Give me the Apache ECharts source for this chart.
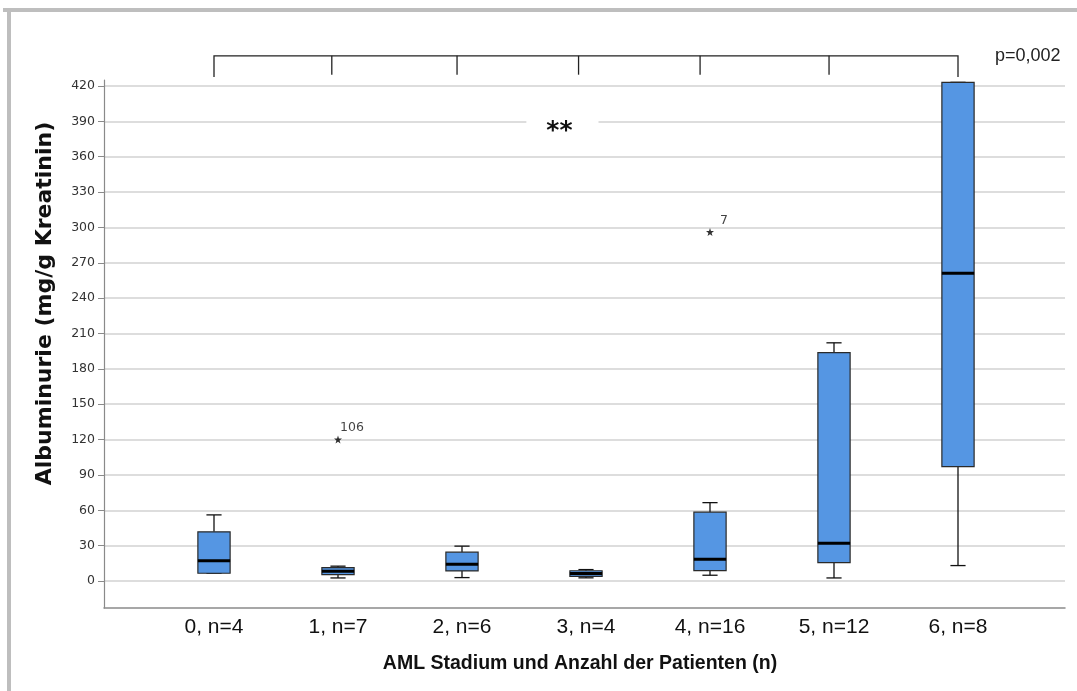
<!DOCTYPE html>
<html><head><meta charset="utf-8">
<script src="https://cdn.jsdelivr.net/npm/echarts@6/dist/echarts.min.js"></script>
<style>html,body{margin:0;padding:0;background:#fff}#c{width:1077px;height:691px}</style>
</head><body><div id="c"></div>
<script>
// ---- data ----
const categories  = ['0, n=4', '1, n=7', '2, n=6', '3, n=4', '4, n=16', '5, n=12', '6, n=8'];
const whiskerLow  = [6.5, 2.5, 2.8, 2.6, 4.8, 2.5, 13];
const q1          = [6.5, 5.4, 8.5, 3.8, 8.7, 15.5, 97];
const median      = [17, 8.2, 14.2, 6.2, 18.4, 32, 261];
const q3          = [41.6, 11.3, 24.4, 8.6, 58.3, 193.7, 423];
const whiskerHigh = [56, 12.5, 29.5, 9.6, 66.4, 202, 423];
const outlierCat   = [1, 4];
const outlierVal   = [120, 296];
const outlierLabel = ['106', '7'];
const yTickMin = 0, yTickMax = 420, yTickStep = 30;
const yRangeMin = -23, yRangeMax = 425;
const bracketTicks = [0, 0.95, 1.96, 2.94, 3.92, 4.96, 6];
const bracketTop = 445.5, bracketEndLow = 427.5, bracketMidLow = 429.5;
const sigText = '**', sigPos = 2.81, sigVal = 381;
const pText = 'p=0,002';
const xTitle = 'AML Stadium und Anzahl der Patienten (n)';
const yTitle = 'Albuminurie (mg/g Kreatinin)';

const boxData = categories.map((c, i) => [i, whiskerLow[i], q1[i], median[i], q3[i], whiskerHigh[i]]);
const outData = outlierCat.map((c, i) => ({ value: [c, outlierVal[i]], name: outlierLabel[i] }));

const FONT = '"Liberation Sans", Arial, sans-serif';
const STAR = 'path://M0,-10 L2.35,-3.24 9.51,-3.09 3.8,1.24 5.88,8.09 0,4 -5.88,8.09 -3.8,1.24 -9.51,-3.09 -2.35,-3.24Z';

function xAt(api, f, v) {
  const i0 = Math.floor(f), i1 = Math.min(i0 + 1, categories.length - 1);
  const a = api.coord([i0, v])[0], b = api.coord([i1, v])[0];
  return a + (f - i0) * (i1 === i0 ? 0 : (b - a));
}

function renderBox(params, api) {
  const i = api.value(0);
  const band = api.size([1, 0])[0];
  const w = band * 0.26, cw = w * 0.47;
  const cx = api.coord([i, 0])[0];
  const yLo = api.coord([i, api.value(1)])[1];
  const yQ1 = api.coord([i, api.value(2)])[1];
  const yMd = api.coord([i, api.value(3)])[1];
  const yQ3 = api.coord([i, api.value(4)])[1];
  const yHi = api.coord([i, api.value(5)])[1];
  const ls = { stroke: '#111', lineWidth: 1.3 };
  return { type: 'group', children: [
    { type: 'line', shape: { x1: cx, y1: yHi, x2: cx, y2: yQ3 }, style: ls },
    { type: 'line', shape: { x1: cx, y1: yQ1, x2: cx, y2: yLo }, style: ls },
    { type: 'line', shape: { x1: cx - cw / 2, y1: yHi, x2: cx + cw / 2, y2: yHi }, style: ls },
    { type: 'line', shape: { x1: cx - cw / 2, y1: yLo, x2: cx + cw / 2, y2: yLo }, style: ls },
    { type: 'rect', shape: { x: cx - w / 2, y: yQ3, width: w, height: yQ1 - yQ3 },
      style: { fill: '#5596e3', stroke: '#2a2a2a', lineWidth: 1.2 } },
    { type: 'line', shape: { x1: cx - w / 2, y1: yMd, x2: cx + w / 2, y2: yMd }, style: { stroke: '#000', lineWidth: 3 } }
  ]};
}

function renderBracket(params, api) {
  const yTop = api.coord([0, bracketTop])[1];
  const yEnd = api.coord([0, bracketEndLow])[1];
  const yMid = api.coord([0, bracketMidLow])[1];
  const xs = bracketTicks.map(f => xAt(api, f, 0));
  const st = { stroke: '#222', lineWidth: 1.3, fill: null };
  const ch = [{ type: 'polyline', shape: { points: [[xs[0], yEnd], [xs[0], yTop], [xs[xs.length - 1], yTop], [xs[xs.length - 1], yEnd]] }, style: st }];
  for (let k = 1; k < xs.length - 1; k++) {
    ch.push({ type: 'line', shape: { x1: xs[k], y1: yTop, x2: xs[k], y2: yMid }, style: st });
  }
  return { type: 'group', children: ch };
}

function renderSig(params, api) {
  const x = xAt(api, sigPos, 0);
  const y = api.coord([0, sigVal])[1];
  return { type: 'text', x: x, y: y, style: {
    text: sigText, font: 'bold 25px "DejaVu Sans", sans-serif', fill: '#111',
    align: 'center', verticalAlign: 'middle',
    backgroundColor: '#fff', padding: [10, 26, 4, 20] } };
}

const chart = echarts.init(document.getElementById('c'), null, { renderer: 'canvas' });
chart.setOption({
  backgroundColor: '#fff',
  animation: false,
  title: { text: pText, left: 990, top: 42, textStyle: { fontFamily: FONT, fontSize: 18, fontWeight: 'normal', color: '#222' } },
  graphic: [
    { type: 'rect', shape: { x: 3, y: 8, width: 1074, height: 4 }, style: { fill: '#bebebe' }, z: 100 },
    { type: 'rect', shape: { x: 7, y: 8, width: 4, height: 683 }, style: { fill: '#bebebe' }, z: 100 }
  ],
  grid: [
    { left: 104, right: 12, top: 86, bottom: 110 },
    { left: 104, right: 12, top: 80, bottom: 83 },
    { left: 152, right: 57, top: 80, bottom: 83 }
  ],
  xAxis: [
    { gridIndex: 0, type: 'value', min: 0, max: 1, show: false },
    { gridIndex: 1, type: 'value', min: 0, max: 1,
      axisLine: { show: true, onZero: false, lineStyle: { color: '#8a8a8a', width: 1.5 } },
      axisTick: { show: false }, axisLabel: { show: false }, splitLine: { show: false } },
    { gridIndex: 2, type: 'category', data: categories, boundaryGap: true,
      axisLine: { show: false, onZero: false }, axisTick: { show: false },
      axisLabel: { margin: 9, fontFamily: FONT, fontSize: 21, color: '#111' },
      name: xTitle, nameLocation: 'middle', nameGap: 46,
      nameTextStyle: { fontFamily: FONT, fontSize: 19.5, fontWeight: 'bold', color: '#111', padding: [0, 12, 0, 0] } }
  ],
  yAxis: [
    { gridIndex: 0, type: 'value', min: yTickMin, max: yTickMax, interval: yTickStep,
      axisLine: { show: false },
      axisTick: { show: true, length: 6, lineStyle: { color: '#8a8a8a' } },
      axisLabel: { margin: 9, fontFamily: '"DejaVu Sans", sans-serif', fontSize: 12.5, color: '#333' },
      splitLine: { show: true, lineStyle: { color: '#d2d2d2', width: 1.5 } },
      name: yTitle, nameLocation: 'middle', nameGap: 48,
      nameTextStyle: { fontFamily: '"DejaVu Sans", sans-serif', fontSize: 22, fontWeight: 'bold', color: '#111', padding: [0, 0, 0, 60] } },
    { gridIndex: 1, type: 'value', min: yRangeMin, max: yRangeMax,
      axisLine: { show: true, onZero: false, lineStyle: { color: '#8a8a8a', width: 1.2 } },
      axisTick: { show: false }, axisLabel: { show: false }, splitLine: { show: false } },
    { gridIndex: 2, type: 'value', min: yRangeMin, max: yRangeMax, show: false, splitLine: { show: false } }
  ],
  series: [
    { type: 'custom', name: 'box', xAxisIndex: 2, yAxisIndex: 2, renderItem: renderBox, data: boxData, z: 3, clip: false },
    { type: 'scatter', name: 'outliers', xAxisIndex: 2, yAxisIndex: 2, data: outData, symbol: STAR, symbolSize: 8,
      itemStyle: { color: '#000' }, z: 4,
      label: { show: true, position: 'top', offset: [14, 4], formatter: p => p.name,
        fontFamily: '"DejaVu Sans", sans-serif', fontSize: 12.5, color: '#111' } },
    { type: 'custom', name: 'bracket', xAxisIndex: 2, yAxisIndex: 2, renderItem: renderBracket, data: [[0, 0]], clip: false, z: 3 },
    { type: 'custom', name: 'sig', xAxisIndex: 2, yAxisIndex: 2, renderItem: renderSig, data: [[0, 0]], clip: false, z: 3 }
  ]
});
</script></body></html>
